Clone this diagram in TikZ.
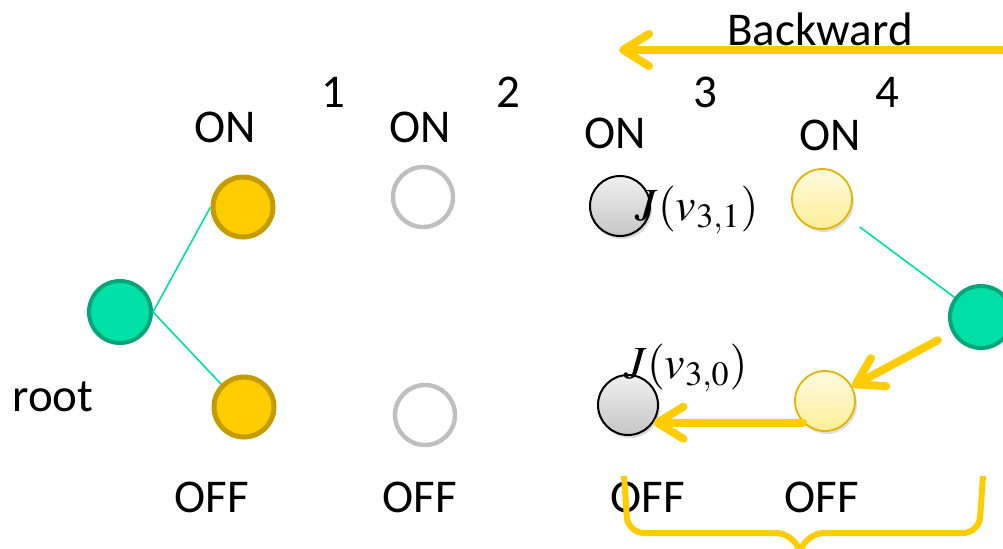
\documentclass[tikz,border=0pt]{standalone}
\usepackage{mathptmx}
\usepackage{fontspec}
\setmainfont{Carlito}
\usetikzlibrary{arrows.meta,positioning,shadows,calc}

\definecolor{rootgreen}{HTML}{00E0A6}
\definecolor{rootedge}{HTML}{00A57A}
\definecolor{gold}{HTML}{FFCC00}
\definecolor{goldedge}{HTML}{C29C00}
\definecolor{ringgray}{HTML}{BFBFBF}
\definecolor{paletop}{HTML}{FFFAE0}
\definecolor{palebottom}{HTML}{FFEE99}
\definecolor{paleedge}{HTML}{E3B500}

\tikzset{
  state/.style={circle, inner sep=0pt, minimum size=30pt},
  rootnode/.style={state, minimum size=31pt, fill=rootgreen, draw=rootedge, line width=2pt},
  onoff/.style={state, fill=gold, draw=goldedge, line width=2.5pt},
  unvisited/.style={state, draw=ringgray, line width=2.2pt},
  costnode/.style={state, top color=gray!12, bottom color=gray!45, draw=black, line width=1pt,
    drop shadow={shadow xshift=1pt, shadow yshift=-1.5pt, opacity=0.3}},
  visited/.style={state, top color=paletop, bottom color=palebottom, draw=paleedge, line width=0.9pt,
    drop shadow={shadow xshift=1pt, shadow yshift=-1.5pt, opacity=0.25}},
  edge/.style={rootgreen, line width=0.8pt},
  back/.style={gold, line width=4pt, line cap=round,
    -{Straight Barb[length=13pt, width=16pt, round]}},
}

\begin{document}
\begin{tikzpicture}[x=0.5pt, y=-0.5pt, every node/.style={font=\fontsize{23.5}{28}\selectfont}]
  \useasboundingbox (0,0) rectangle (1003,548);
  \clip (0,0) rectangle (1003,548);

  % Stages
  \node (n1) at (333,92) {1};
  \node (n2) at (508,92) {2};
  \node (n3) at (705,92) {3};
  \node (n4) at (887,92) {4};

  % Backward pass
  \coordinate (bstart) at (1010,50);
  \coordinate (bend) at (619,50);
  \draw[back] (bstart) -- (bend);
  \node (bwd) at (820,29) {Backward};

  % Roots
  \node[rootnode] (root) at (120,312) {};
  \node (rootlbl) at (53,397) {root};
  \node[rootnode] (rroot) at (981,317) {};

  % ON / OFF nodes
  \node[onoff] (on1) at (243,207) {};
  \node[onoff] (off1) at (244,407) {};
  \node[unvisited] (on2) at (423,197) {};
  \node[unvisited] (off2) at (425,415) {};
  \node[costnode] (on3) at (620,206) {};
  \node[costnode] (off3) at (628,405) {};
  \node[visited] (on4) at (822,199) {};
  \node[visited] (off4) at (825,401) {};

  % Labels
  \node at (225,127) {ON};
  \node at (420,127) {ON};
  \node at (615,133) {ON};
  \node at (830,135) {ON};
  \node at (212,497) {OFF};
  \node at (420,497) {OFF};
  \node at (648,497) {OFF};
  \node at (822,497) {OFF};
  \node[font=\fontsize{23}{28}\selectfont] (j31) at (697,210) {$J(v_{3,1})$};
  \node[font=\fontsize{23}{28}\selectfont] (j30) at (686,368) {$J(v_{3,0})$};

  % Tree edges
  \draw[edge] (root.east) -- (on1.west);
  \draw[edge] (root.east) -- (off1.north west);
  \draw[edge, shorten <=8pt] (on4) -- (rroot);

  % Backward steps
  \draw[back, shorten <=8pt] (rroot) -- (off4);
  \draw[back] (off4.south west) -- (off3.-35);

  % Brace
  \draw[gold, line width=3pt, rounded corners=8pt]
    (624,476) -- (628,533) -- (792,533) -- (800,552)
    (800,552) -- (808,533) -- (979,533) -- (983,476);
\end{tikzpicture}
\end{document}
